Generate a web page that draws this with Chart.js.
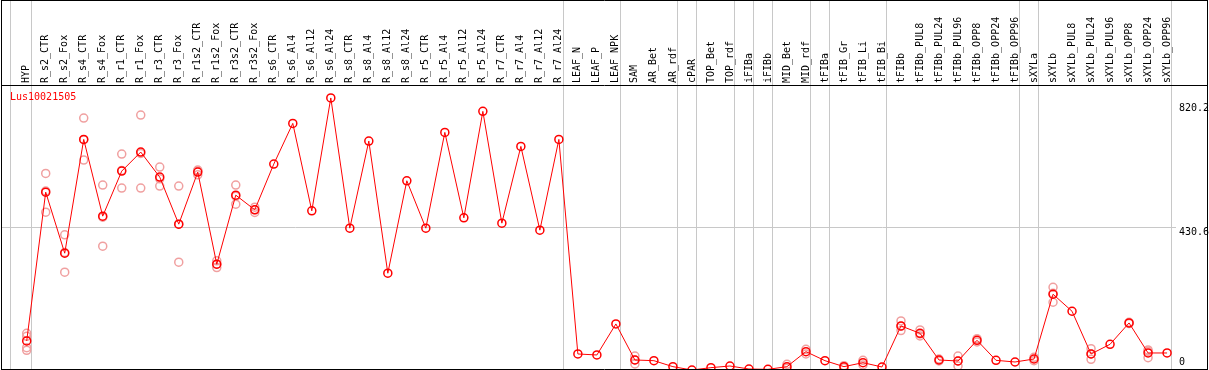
<!DOCTYPE html>
<html>
<head>
<meta charset="utf-8">
<script src="https://cdn.jsdelivr.net/npm/chart.js@4/dist/chart.umd.min.js"></script>
<style>
  html, body { margin: 0; padding: 0; background: #fff; overflow: hidden; }
  canvas { display: block; }
</style>
</head>
<body>
<canvas id="exprChart" width="1209" height="370"></canvas>
<script>
// categories (sample names), in plot order
const categories = [
  'HYP', 'R_s2_CTR', 'R_s2_Fox', 'R_s4_CTR', 'R_s4_Fox', 'R_r1_CTR', 'R_r1_Fox',
  'R_r3_CTR', 'R_r3_Fox', 'R_r1s2_CTR', 'R_r1s2_Fox', 'R_r3s2_CTR', 'R_r3s2_Fox',
  'R_s6_CTR', 'R_s6_Al4', 'R_s6_Al12', 'R_s6_Al24', 'R_s8_CTR', 'R_s8_Al4',
  'R_s8_Al12', 'R_s8_Al24', 'R_r5_CTR', 'R_r5_Al4', 'R_r5_Al12', 'R_r5_Al24',
  'R_r7_CTR', 'R_r7_Al4', 'R_r7_Al12', 'R_r7_Al24', 'LEAF_N', 'LEAF_P', 'LEAF_NPK',
  'SAM', 'AR_Bet', 'AR_rdf', 'cPAR', 'TOP_Bet', 'TOP_rdf', 'iFIBa', 'iFIBb',
  'MID_Bet', 'MID_rdf', 'tFIBa', 'tFIB_Gr', 'tFIB_Li', 'tFIB_Bi', 'tFIBb',
  'tFIBb_PUL8', 'tFIBb_PUL24', 'tFIBb_PUL96', 'tFIBb_OPP8', 'tFIBb_OPP24', 'tFIBb_OPP96',
  'sXYLa', 'sXYLb', 'sXYLb_PUL8', 'sXYLb_PUL24', 'sXYLb_PUL96', 'sXYLb_OPP8',
  'sXYLb_OPP24', 'sXYLb_OPP96'
];

// mean expression per sample
const means = [
  92, 538, 355, 696, 466, 601, 658, 583, 442, 598, 322, 529, 485,
  622, 744, 482, 820.2, 430, 691, 295, 572, 430, 717, 461, 780,
  445, 675, 424, 696, 53, 50, 143,
  35, 33, 15, 5, 12, 17, 8, 7, 15, 60, 33, 15, 27, 14, 137,
  115, 35, 32, 94, 34, 29,
  38, 232, 181, 53, 82, 146, 56, 56
];

// replicate values per sample (empty where none shown)
const replicates = [
  [115, 106, 72, 64], [594, 478, 541], [410, 298, 357], [760, 634, 695],
  [559, 376, 463], [652, 550, 603], [769, 550, 654], [613, 556, 578],
  [556, 328, 442], [604, 590, 601], [332, 312, 322], [559, 502, 526],
  [493, 477, 485],
  [], [], [], [], [], [], [], [], [], [], [], [], [], [], [], [],
  [], [], [],
  [47, 23, 35], [], [], [], [], [], [], [], [22, 10], [67, 53], [], [18, 12],
  [34, 20], [], [152, 123, 136],
  [125, 107, 113], [38, 32], [47, 17, 32], [99, 89], [], [],
  [43, 33], [253, 208, 235], [], [69, 37, 53], [], [148, 144], [65, 42, 61], []
];

// right axis labels
const yTicks = [0, 430.6, 820.2];
const gridAt = 430.6;

// last sample of each group (separator drawn after it)
const groupEnds = [0, 28, 31, 34, 35, 37, 38, 39, 41, 42, 45, 52, 53, 60];

const geneName = 'Lus10021505';

const meanPoints = means.map((v, i) => ({x: i, y: v}));
const repPoints = [];
replicates.forEach((reps, i) => reps.forEach(v => repPoints.push({x: i, y: v})));

const FONT = 'DejaVu Sans Mono';

// frame, separators, value labels and gene name
const framePlugin = {
  id: 'frame',
  beforeDatasetsDraw(chart) {
    const ctx = chart.ctx;
    const x = chart.scales.x;
    ctx.save();
    ctx.strokeStyle = '#c8c8c8';
    ctx.lineWidth = 1;
    const seps = [-0.86].concat(groupEnds.map(g => g + 0.21));
    seps.forEach(s => {
      const px = Math.round(x.getPixelForValue(s)) + 0.5;
      ctx.beginPath();
      ctx.moveTo(px, 1);
      ctx.lineTo(px, chart.chartArea.bottom);
      ctx.stroke();
    });
    ctx.restore();
  },
  afterDraw(chart) {
    const ctx = chart.ctx;
    const area = chart.chartArea;
    const y = chart.scales.y;
    ctx.save();
    ctx.strokeStyle = '#000';
    ctx.lineWidth = 1;
    ctx.beginPath();
    ctx.moveTo(1.5, 0.5); ctx.lineTo(1207.5, 0.5);
    ctx.moveTo(1.5, 0); ctx.lineTo(1.5, 370);
    ctx.moveTo(1207.5, 0); ctx.lineTo(1207.5, 370);
    ctx.moveTo(1.5, area.top - 0.5); ctx.lineTo(1207.5, area.top - 0.5);
    ctx.moveTo(1.5, 369.5); ctx.lineTo(1207.5, 369.5);
    ctx.stroke();

    ctx.font = '10px "' + FONT + '"';
    ctx.fillStyle = '#000';
    ctx.textBaseline = 'middle';
    ctx.textAlign = 'left';
    yTicks.forEach(v => {
      let py = y.getPixelForValue(v) + 4;
      py = Math.min(Math.max(py, area.top + 22), area.bottom - 7);
      ctx.fillText(String(v), area.right + 3, py);
    });

    ctx.fillStyle = '#ff0000';
    ctx.fillText(geneName, 10, area.top + 11);
    ctx.restore();
  }
};

Chart.defaults.font.family = FONT;
Chart.defaults.font.size = 10;
Chart.defaults.color = '#000';

new Chart(document.getElementById('exprChart').getContext('2d'), {
  type: 'line',
  data: {
    datasets: [
      {
        label: 'mean',
        data: meanPoints,
        borderColor: '#ff0000',
        borderWidth: 1,
        pointRadius: 4,
        pointBorderWidth: 1.5,
        pointBorderColor: '#ff0000',
        pointBackgroundColor: 'rgba(255,255,255,0)',
        tension: 0,
        clip: false,
        order: 1
      },
      {
        label: 'replicates',
        data: repPoints,
        showLine: false,
        pointRadius: 4,
        pointBorderWidth: 1.5,
        pointBorderColor: '#f0a0a0',
        pointBackgroundColor: 'rgba(255,255,255,0)',
        clip: false,
        order: 2
      }
    ]
  },
  options: {
    responsive: false,
    animation: false,
    events: [],
    layout: { autoPadding: false, padding: { left: 2, right: 2, top: 0, bottom: 1 } },
    plugins: { legend: { display: false }, tooltip: { enabled: false } },
    scales: {
      x: {
        type: 'linear',
        position: 'top',
        min: -1.3,
        max: 60.47,
        afterBuildTicks: s => { s.ticks = categories.map((c, i) => ({value: i})); },
        afterFit: s => { s.height = 86; },
        grid: { display: false, drawTicks: false },
        border: { display: false },
        ticks: {
          autoSkip: false,
          minRotation: 90,
          maxRotation: 90,
          padding: 3,
          labelOffset: 12,
          color: '#000',
          callback: v => categories[v]
        }
      },
      y: {
        type: 'linear',
        position: 'right',
        min: 8,
        max: 856,
        afterBuildTicks: s => { s.ticks = yTicks.map(v => ({value: v})); },
        afterFit: s => { s.width = 31; },
        border: { display: false },
        grid: {
          drawTicks: false,
          color: c => (c.tick && c.tick.value === gridAt) ? '#c8c8c8' : 'rgba(0,0,0,0)'
        },
        ticks: { display: false }
      }
    }
  },
  plugins: [framePlugin]
});
</script>
</body>
</html>
